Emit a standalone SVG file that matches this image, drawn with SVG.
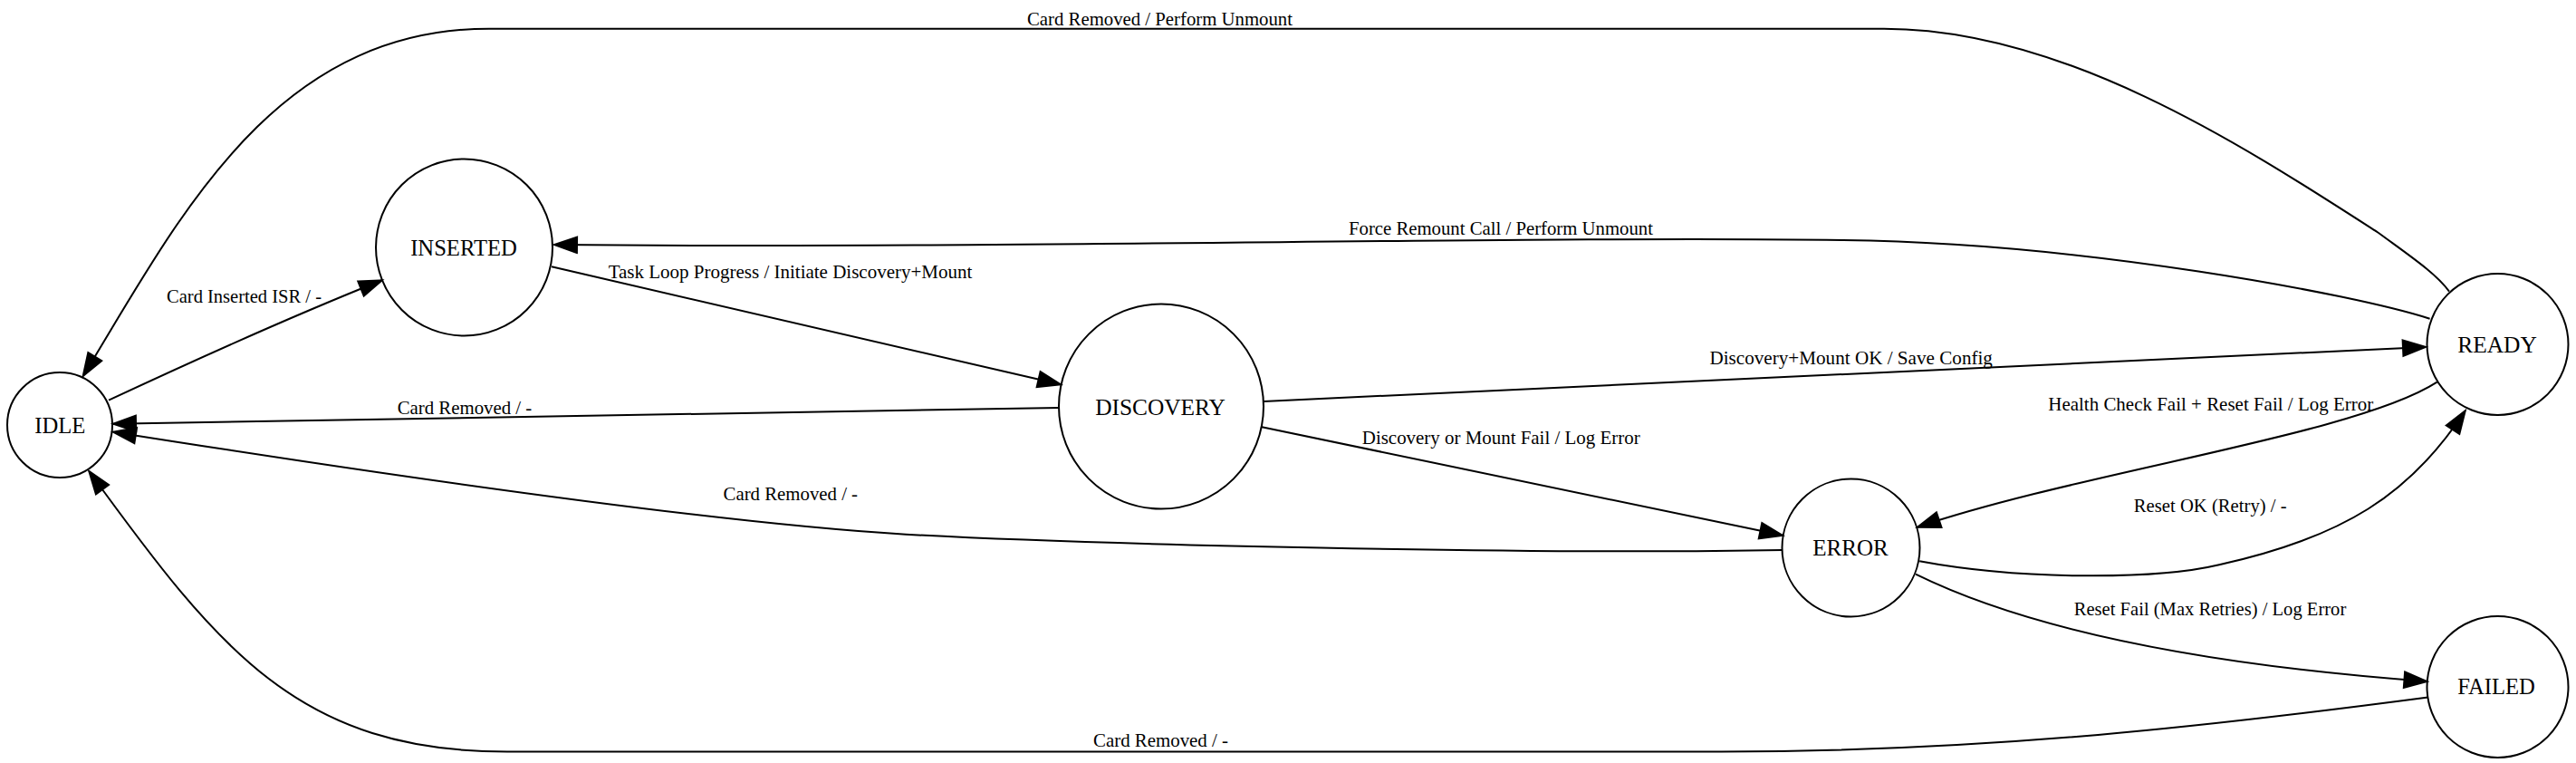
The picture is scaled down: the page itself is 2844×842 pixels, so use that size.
<svg xmlns="http://www.w3.org/2000/svg" width="2844" height="842" viewBox="0 0 2844 842">
<style>
.node ellipse{fill:none;stroke:#000;stroke-width:2}
.node text{font-family:"Liberation Serif","Times New Roman",serif;font-size:26px;text-anchor:middle;fill:#000}
.edge path{fill:none;stroke:#000;stroke-width:2;marker-end:url(#arr)}
.edge text{font-family:"Liberation Serif","Times New Roman",serif;font-size:22px;text-anchor:middle;fill:#000}
</style>
<defs>
<marker id="arr" markerUnits="userSpaceOnUse" markerWidth="30" markerHeight="22" refX="25" refY="10" orient="auto" overflow="visible">
<path d="M0,1.3 L25,10 L0,18.7 Z" fill="#000" stroke="#000" stroke-width="2"/>
</marker>
</defs>
<rect width="2844" height="842" fill="#fff"/>
<g id="connectors">
<g class="edge" id="e_ready_idle"><path d="M2704,321.7 C2690,302 2660,282 2626,257 C2480,163 2280,31.7 2080,31.7 L540,31.7 C300,31.7 195.7,245 91.7,415"/><text x="1280.5" y="28.3" textLength="293" lengthAdjust="spacingAndGlyphs">Card Removed / Perform Unmount</text></g>
<g class="edge" id="e_idle_inserted"><path d="M120,441.7 C220,395 320,350 421.7,309.3"/><text x="269.5" y="333.5" textLength="171" lengthAdjust="spacingAndGlyphs">Card Inserted ISR / -</text></g>
<g class="edge" id="e_inserted_discovery"><path d="M609,294.3 L1171,424.3"/><text x="872.5" y="307" textLength="401.7" lengthAdjust="spacingAndGlyphs">Task Loop Progress / Initiate Discovery+Mount</text></g>
<g class="edge" id="e_ready_inserted"><path d="M2682.6,351.8 C2600,325 2300,268 2035,265 C1700,260 1100,275 612,270"/><text x="1657" y="259" textLength="336" lengthAdjust="spacingAndGlyphs">Force Remount Call / Perform Unmount</text></g>
<g class="edge" id="e_discovery_idle"><path d="M1169,450 L125,467.7"/><text x="513" y="456.5" textLength="148.6" lengthAdjust="spacingAndGlyphs">Card Removed / -</text></g>
<g class="edge" id="e_discovery_ready"><path d="M1395,443 L2678,383"/><text x="2043.7" y="401.7" textLength="312.5" lengthAdjust="spacingAndGlyphs">Discovery+Mount OK / Save Config</text></g>
<g class="edge" id="e_discovery_error"><path d="M1392,471 L1968,590.8"/><text x="1657.2" y="490.3" textLength="306.8" lengthAdjust="spacingAndGlyphs">Discovery or Mount Fail / Log Error</text></g>
<g class="edge" id="e_error_idle"><path d="M1968,607 C1700,612 1200,601 1000,589.7 C800,578 450,528 125,476.7"/><text x="872.8" y="551.5" textLength="148.5" lengthAdjust="spacingAndGlyphs">Card Removed / -</text></g>
<g class="edge" id="e_ready_error"><path d="M2690.6,421.7 C2600,480 2300,520 2117,581.7"/><text x="2440.7" y="452.7" textLength="358.9" lengthAdjust="spacingAndGlyphs">Health Check Fail + Reset Fail / Log Error</text></g>
<g class="edge" id="e_error_ready"><path d="M2119.2,619.3 C2230,640 2380,640 2450,623.3 C2587,593.1 2661.5,545.4 2721.7,453.3"/><text x="2440.2" y="565" textLength="168.8" lengthAdjust="spacingAndGlyphs">Reset OK (Retry) / -</text></g>
<g class="edge" id="e_error_failed"><path d="M2115,633.7 C2250,700 2450,735 2679.4,752"/><text x="2440" y="679.4" textLength="300.5" lengthAdjust="spacingAndGlyphs">Reset Fail (Max Retries) / Log Error</text></g>
<g class="edge" id="e_failed_idle"><path d="M2680.7,769.6 C2450,800 2200,829.5 1900,829.5 L560,829.5 C330,829.5 242,718 98.3,520"/><text x="1281.5" y="824.4" textLength="149" lengthAdjust="spacingAndGlyphs">Card Removed / -</text></g>
</g>
<g class="node" id="IDLE"><ellipse cx="66" cy="469" rx="58" ry="58"/><text x="66.3" y="478" textLength="56" lengthAdjust="spacingAndGlyphs">IDLE</text></g>
<g class="node" id="INSERTED"><ellipse cx="512.5" cy="273" rx="97.5" ry="97.5"/><text x="512" y="282.3" textLength="117.7" lengthAdjust="spacingAndGlyphs">INSERTED</text></g>
<g class="node" id="DISCOVERY"><ellipse cx="1282" cy="448.5" rx="113" ry="113"/><text x="1281" y="457.6" textLength="143.7" lengthAdjust="spacingAndGlyphs">DISCOVERY</text></g>
<g class="node" id="READY"><ellipse cx="2757.5" cy="380" rx="78" ry="78"/><text x="2757" y="389.4" textLength="87.6" lengthAdjust="spacingAndGlyphs">READY</text></g>
<g class="node" id="ERROR"><ellipse cx="2043.5" cy="604.5" rx="76" ry="76"/><text x="2043" y="613.3" textLength="83.5" lengthAdjust="spacingAndGlyphs">ERROR</text></g>
<g class="node" id="FAILED"><ellipse cx="2757.5" cy="758" rx="78" ry="78"/><text x="2756" y="766.4" textLength="85.7" lengthAdjust="spacingAndGlyphs">FAILED</text></g>
</svg>
